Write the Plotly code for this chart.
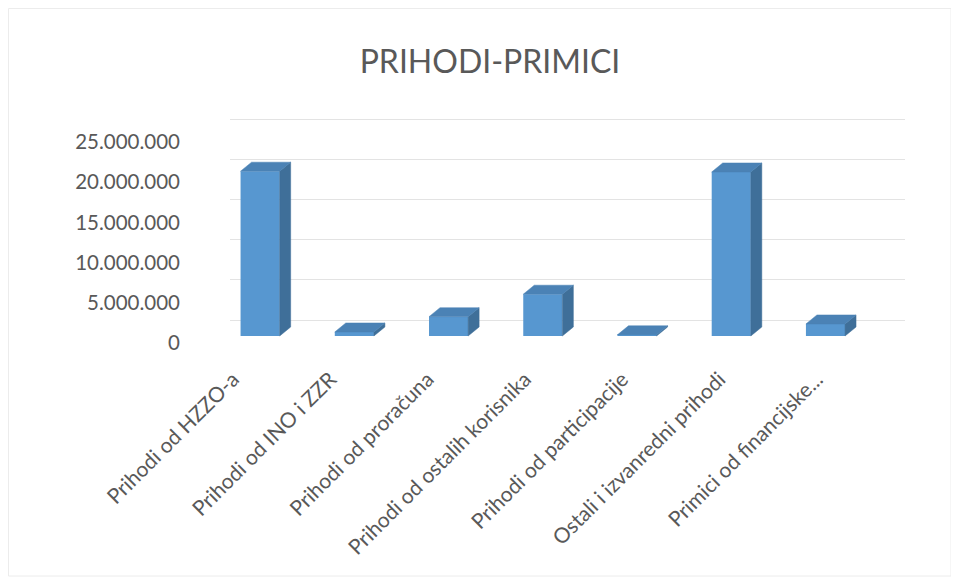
import plotly.graph_objects as go

categories = [
    "Prihodi od HZZO-a",
    "Prihodi od INO i ZZR",
    "Prihodi od proračuna",
    "Prihodi od ostalih korisnika",
    "Prihodi od participacije",
    "Ostali i izvanredni prihodi",
    "Primici od financijske...",
]
values = [20500000, 500000, 2400000, 5200000, 150000, 20400000, 1500000]
y_ticks = [0, 5000000, 10000000, 15000000, 20000000, 25000000]

W, H = 959, 584
OFF = 8  # page margin compensation
FONT = "Lato"
TXT = "#595959"
FRONT = "#5797d0"
SIDE = "#3f6f99"
TOP = "#4b82b5"

def xdom(a, b):
    return [(a - OFF) / W, (b - OFF) / W]

def ydom(top, bottom):
    return [(H - (bottom - OFF)) / H, (H - (top - OFF)) / H]

def ypos(p):
    return (H - (p - OFF)) / H

PX_PER_M = 8.04  # pixels per million
def rng(bottom_px, top_px, zero_px):
    lo = -(bottom_px - zero_px) / PX_PER_M * 1e6
    hi = (zero_px - top_px) / PX_PER_M * 1e6
    return [lo, hi]

fig = go.Figure()

# back wall gridlines (subplot 1)
fig.add_trace(go.Scatter(x=[None], y=[None], xaxis="x", yaxis="y",
                         showlegend=False, hoverinfo="skip"))

n = len(categories)
xs = list(range(n))
bw = 0.415
dx = 11 / 94.2
dy = 9 / PX_PER_M * 1e6

fig.add_trace(go.Bar(x=xs, y=values, width=bw, marker=dict(color=FRONT, line=dict(width=0)),
                     xaxis="x2", yaxis="y2", showlegend=False, hoverinfo="skip"))

side_x, side_y, top_x, top_y = [], [], [], []
for x, v in zip(xs, values):
    xl, xr = x - bw / 2, x + bw / 2
    side_x += [xr, xr + dx, xr + dx, xr, xr, None]
    side_y += [0, dy, v + dy, v, 0, None]
    top_x += [xl, xr, xr + dx, xl + dx, xl, None]
    top_y += [v, v, v + dy, v + dy, v, None]

fig.add_trace(go.Scatter(x=side_x, y=side_y, fill="toself", fillcolor=SIDE, mode="lines",
                         line=dict(width=0.5, color=SIDE), xaxis="x2", yaxis="y2",
                         showlegend=False, hoverinfo="skip"))
fig.add_trace(go.Scatter(x=top_x, y=top_y, fill="toself", fillcolor=TOP, mode="lines",
                         line=dict(width=0.5, color=TOP), xaxis="x2", yaxis="y2",
                         showlegend=False, hoverinfo="skip"))

# carriers for the label axes
fig.add_trace(go.Scatter(x=[None], y=[None], xaxis="x2", yaxis="y3",
                         showlegend=False, hoverinfo="skip"))
fig.add_trace(go.Scatter(x=[None], y=[None], xaxis="x3", yaxis="y2",
                         showlegend=False, hoverinfo="skip"))

front_dom_top, front_dom_bot = 130, 350
wall_dom_top, wall_dom_bot = 110, 330

fig.update_layout(
    width=W, height=H,
    margin=dict(l=0, r=0, t=0, b=0, autoexpand=False),
    paper_bgcolor="white", plot_bgcolor="rgba(0,0,0,0)",
    separators=",.",
    font=dict(family=FONT, color=TXT),
    title=dict(text="PRIHODI-PRIMICI", x=(490 - OFF) / W, xanchor="center",
               y=1 - (62 - OFF) / H, yanchor="middle",
               font=dict(family=FONT, size=32, color=TXT)),
    showlegend=False,
    xaxis=dict(domain=xdom(230, 905), range=[0, 1], visible=False, fixedrange=True,
               automargin=False),
    yaxis=dict(domain=ydom(wall_dom_top, wall_dom_bot),
               range=rng(wall_dom_bot, wall_dom_top, 320),
               tickvals=y_ticks, showticklabels=False, showgrid=True,
               gridcolor="#e3e3e3", gridwidth=1.2, zeroline=False, showline=False,
               anchor="x", fixedrange=True, automargin=False),
    xaxis2=dict(domain=xdom(213, 872.6), range=[-0.5, n - 0.5], anchor="y2",
                visible=False, fixedrange=True, automargin=False),
    xaxis3=dict(domain=xdom(184.35, 865.45), range=[-0.5, n - 0.5],
                anchor="free", position=ypos(362),
                tickvals=xs, ticktext=categories, tickangle=-45,
                tickfont=dict(family=FONT, size=21, color=TXT),
                showgrid=False, zeroline=False, showline=False, ticks="",
                fixedrange=True, automargin=False),
    yaxis2=dict(domain=ydom(front_dom_top, front_dom_bot),
                range=rng(front_dom_bot, front_dom_top, 336),
                visible=False, anchor="x2", fixedrange=True, automargin=False),
    yaxis3=dict(overlaying="y2", anchor="x2", side="left",
                range=rng(front_dom_bot, front_dom_top, 343),
                tickvals=y_ticks, tickformat=",d",
                tickfont=dict(family=FONT, size=20.5, color=TXT),
                showgrid=False, zeroline=False, showline=False, ticks="",
                ticklabelstandoff=32, fixedrange=True, automargin=False),
    shapes=[dict(type="rect", xref="paper", yref="paper", x0=0.5 / W, x1=(951 - OFF) / W,
                 y0=1 - (576 - OFF) / H, y1=1 - 0.5 / H, line=dict(color="#ececec", width=1))],
)

fig.write_html("out.html")
